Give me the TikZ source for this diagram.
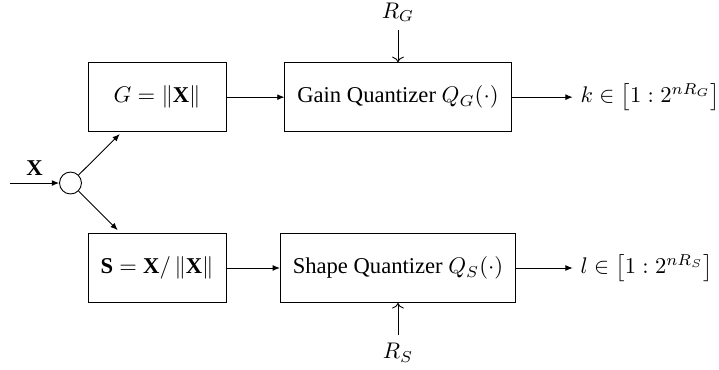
\documentclass[tikz,border=0pt]{standalone}
\usepackage{fontspec}
\setmainfont{Liberation Serif}
\usetikzlibrary{arrows.meta,calc,positioning}

\begin{document}
\begin{tikzpicture}[>={Latex[length=3.2pt,width=2.6pt]},node distance=14.3pt,
  blk/.style={draw,inner xsep=5.5pt,minimum width=61pt,minimum height=30.5pt}]
\useasboundingbox (-31.2pt,-82.7pt) rectangle (287pt,81pt);
\node[draw,circle,minimum size=9.7pt,inner sep=0pt] (c) at (0,0) {};
\coordinate (xin) at (-26.8pt,0);
\node[blk] (g) at (38.3pt,38pt) {$G=\|\mathbf{X}\|$};
\node[blk] (s) at (38.3pt,-37.6pt) {$\mathbf{S}=\mathbf{X}/\left\|\mathbf{X}\right\|$};
\node[blk,right=25.7pt of g] (gq) {Gain Quantizer $Q_G(\cdot)$};
\node[blk] (sq) at (gq |- s) {Shape Quantizer $Q_S(\cdot)$};
\node[right=27.1pt of gq] (k) {$k\in\left[1:2^{nR_G}\right]$};
\node[anchor=west] (l) at (k.west |- sq) {$l\in\left[1:2^{nR_S}\right]$};
\node[above=of gq] (rg) {$R_G$};
\node[below=of sq] (rs) {$R_S$};
% connectors
\draw[->] (xin) -- node[above] {$\mathbf{X}$} (c);
\draw[->] (c) -- ([xshift=14.2pt,yshift=-0.9pt]g.south west);
\draw[->] (c) -- ([xshift=13.3pt,yshift=1.3pt]s.north west);
\draw[->] (g) -- (gq);\draw[->] (s) -- (sq);
\draw[->] (gq) -- (k);\draw[->] (sq) -- (l);
\draw[-To] (rg) -- (gq);\draw[-To] (rs) -- (sq);
\end{tikzpicture}
\end{document}
